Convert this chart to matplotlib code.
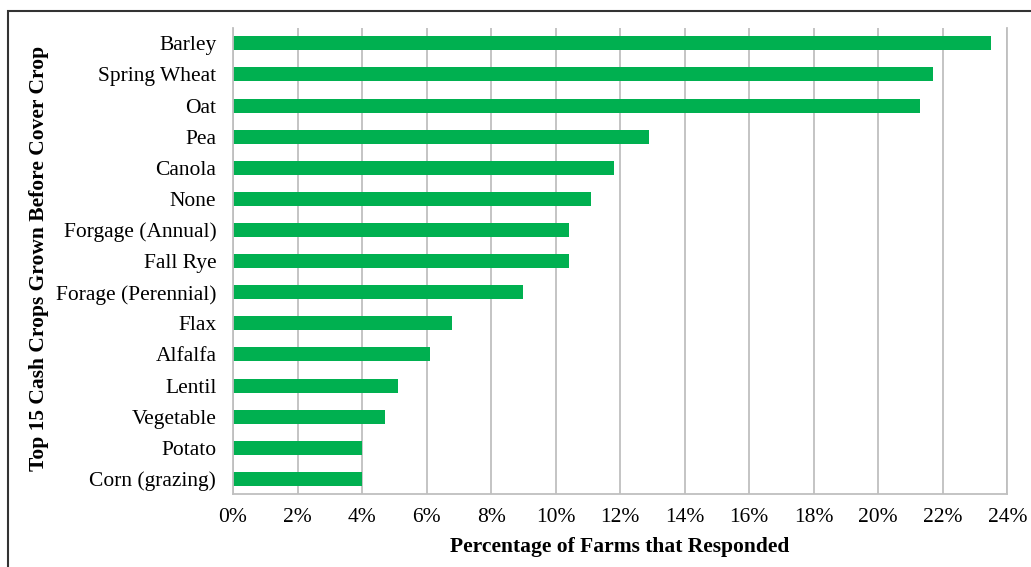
import matplotlib.pyplot as plt
from matplotlib.patches import Rectangle
from matplotlib.ticker import FuncFormatter

crops = ['Barley', 'Spring Wheat', 'Oat', 'Pea', 'Canola', 'None',
         'Forgage (Annual)', 'Fall Rye', 'Forage (Perennial)', 'Flax',
         'Alfalfa', 'Lentil', 'Vegetable', 'Potato', 'Corn (grazing)']
percent = [23.5, 21.7, 21.3, 12.9, 11.8, 11.1, 10.4, 10.4, 9.0, 6.8,
           6.1, 5.1, 4.7, 4.0, 4.0]
x_ticks = list(range(0, 25, 2))

plt.rcParams['font.family'] = ['Liberation Serif', 'DejaVu Serif']
FS = 15.5

fig = plt.figure(figsize=(10.31, 5.67), dpi=100)
ax = fig.add_axes([0.226, 0.128, 0.751, 0.823])

y = list(range(len(crops)))
ax.barh(y, percent, height=0.45, color='#00B050')
ax.set_ylim(len(crops) - 0.5, -0.5)
ax.set_xlim(0, 24)
ax.set_yticks(y)
ax.set_yticklabels(crops, fontsize=FS)
ax.set_xticks(x_ticks)
ax.xaxis.set_major_formatter(FuncFormatter(lambda v, p: f'{v:.0f}%'))
ax.tick_params(axis='x', labelsize=FS, length=0, pad=10)
ax.tick_params(axis='y', length=0, pad=12)

ax.grid(True, axis='x', color='#BFBFBF', linewidth=1.3)
ax.set_axisbelow(True)
ax.spines['top'].set_visible(False)
for s in ['left', 'bottom', 'right']:
    ax.spines[s].set_color('#BFBFBF')
    ax.spines[s].set_linewidth(1.3)

ax.set_xlabel('Percentage of Farms that Responded', fontsize=FS,
              fontweight='bold', labelpad=7)
fig.text(0.038, 0.545, 'Top 15 Cash Crops Grown Before Cover Crop',
         rotation=90, fontsize=FS, fontweight='bold', ha='center', va='center')

fig.patches.append(Rectangle((8 / 1031, -0.1), 1.2, 1 - 11 / 567 + 0.1,
                             transform=fig.transFigure, fill=False,
                             edgecolor='#333333', linewidth=1.5))

fig.savefig('out.png', dpi=100)
